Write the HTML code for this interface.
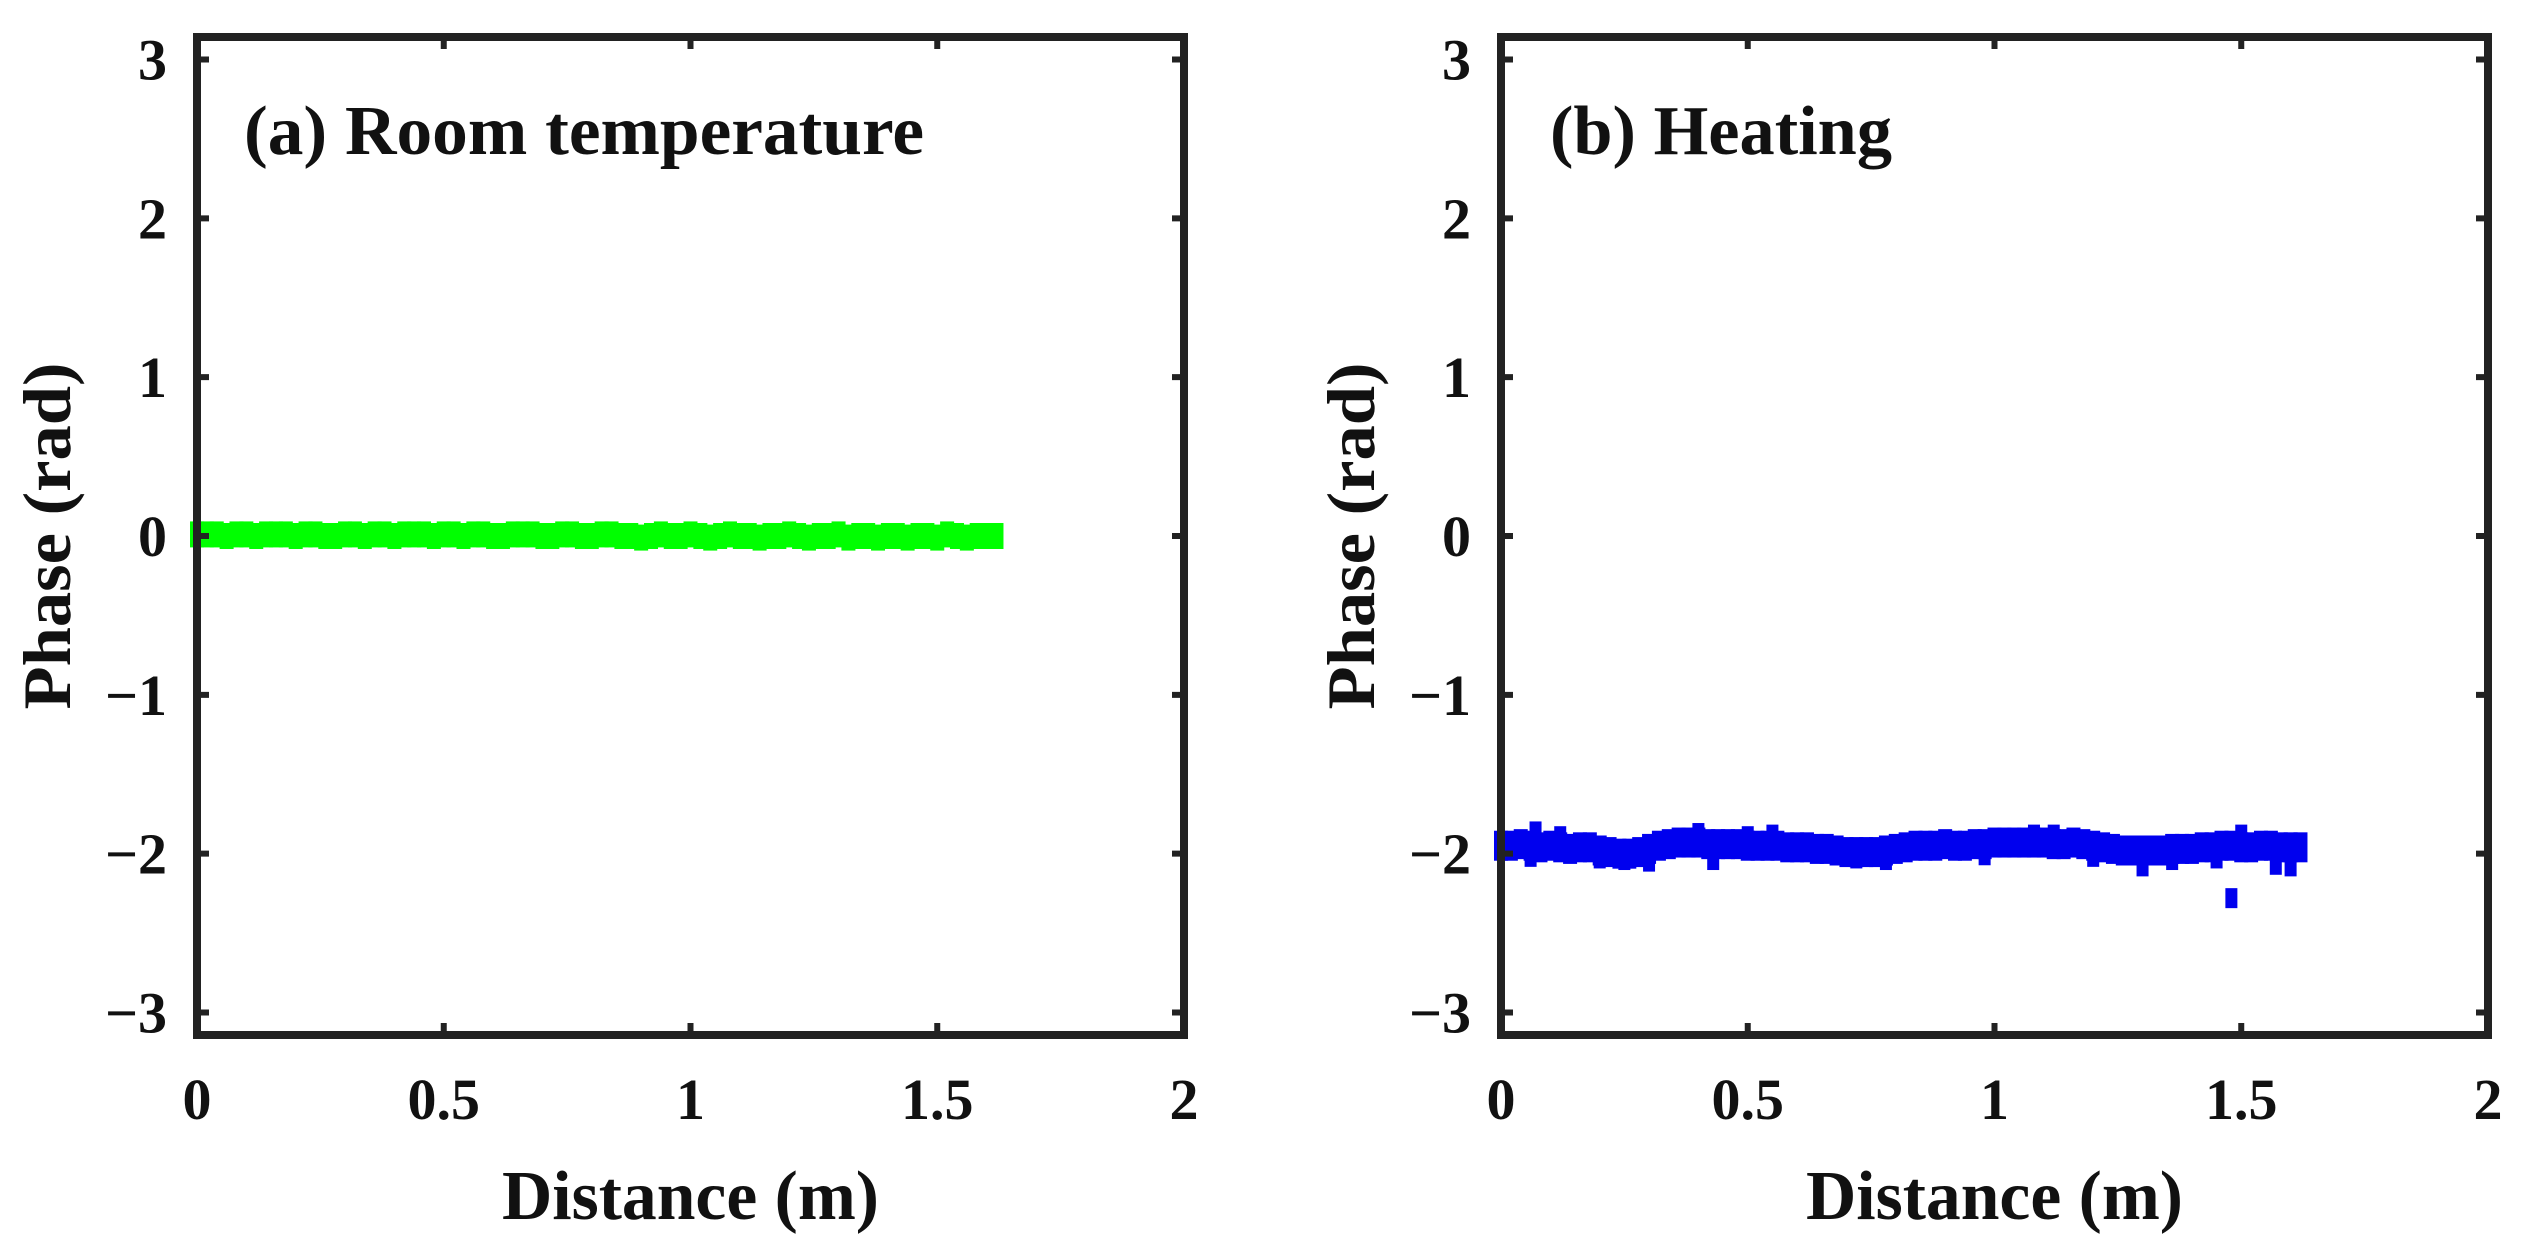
<!DOCTYPE html>
<html><head><meta charset="utf-8">
<style>
html,body{margin:0;padding:0;background:#fff;}
svg{display:block;}
text{font-family:"Liberation Serif",serif;font-weight:bold;fill:#111;}
</style></head>
<body>
<svg id="fig" width="2541" height="1241" viewBox="0 0 2541 1241" xmlns="http://www.w3.org/2000/svg"></svg>
<script>
const xTicks = [0, 0.5, 1, 1.5, 2];
const xTickLabels = ["0", "0.5", "1", "1.5", "2"];
const yTicks = [-3, -2, -1, 0, 1, 2, 3];
const yTickLabels = ["\u22123", "\u22122", "\u22121", "0", "1", "2", "3"];
const xStep = 0.02;
const greenPhase = [0.01,0.01,0.01,0.0,0.01,0.01,0.0,0.01,0.01,0.01,0.0,0.01,0.01,0.0,0.0,0.01,0.01,0.0,0.01,0.01,
 0.0,0.01,0.01,0.01,0.0,0.01,0.01,0.0,0.01,0.01,0.0,0.0,0.01,0.01,0.01,0.0,0.0,0.01,0.01,0.0,
 0.0,0.01,0.01,0.0,0.0,-0.01,0.0,0.01,0.0,0.0,0.01,0.0,-0.01,0.0,0.01,0.0,0.0,-0.01,0.0,0.0,
 0.01,0.0,-0.01,0.0,0.0,0.01,-0.01,0.0,0.0,-0.01,0.0,0.0,-0.01,0.0,0.0,-0.01,0.01,0.0,-0.01,0.0,0.0,0.0];
const bluePhase = [-1.95,-1.95,-1.94,-1.95,-1.96,-1.95,-1.96,-1.97,-1.96,-1.96,-1.98,-1.99,-2.0,-2.0,-1.99,-1.97,-1.95,-1.94,-1.93,-1.93,
 -1.93,-1.94,-1.94,-1.94,-1.94,-1.95,-1.95,-1.95,-1.95,-1.96,-1.96,-1.96,-1.97,-1.97,-1.98,-1.99,-1.99,-1.99,-1.99,-1.98,
 -1.97,-1.96,-1.95,-1.95,-1.95,-1.94,-1.95,-1.95,-1.94,-1.94,-1.93,-1.93,-1.93,-1.93,-1.93,-1.93,-1.94,-1.94,-1.93,-1.94,
 -1.95,-1.96,-1.97,-1.98,-1.98,-1.98,-1.98,-1.98,-1.97,-1.97,-1.97,-1.96,-1.96,-1.95,-1.95,-1.96,-1.96,-1.95,-1.95,-1.96,-1.96,-1.96];
const blueSpikeX = [0.06,0.07,0.12,0.2,0.25,0.3,0.4,0.43,0.5,0.55,0.72,0.78,0.98,1.08,1.12,1.2,1.3,1.36,1.45,1.48,1.5,1.57,1.6];
const blueSpikeY = [-2.02,-1.86,-1.89,-2.03,-2.04,-2.05,-1.87,-2.04,-1.89,-1.88,-2.03,-2.04,-2.01,-1.88,-1.88,-2.02,-2.08,-2.04,-2.03,-2.28,-1.88,-2.07,-2.08];

const NS = "http://www.w3.org/2000/svg";
const svg = document.getElementById("fig");
function mk(tag, attrs, parent) {
  const e = document.createElementNS(NS, tag);
  for (const k in attrs) e.setAttribute(k, attrs[k]);
  (parent || svg).appendChild(e);
  return e;
}
const YMIN = -Math.PI, YMAX = Math.PI, XMIN = 0, XMAX = 2;
const panels = [
  {L:197, R:1184, T:37, B:1035, title:"(a) Room temperature", titleX:244, titleLen:680, ytX:70, color:"#00ff00", key:"room", data:greenPhase, w:14, h:26},
  {L:1501, R:2488, T:37, B:1035, title:"(b) Heating", titleX:1550, titleLen:342, ytX:1374, color:"#0000ee", key:"heating", data:bluePhase, w:14, h:30}
];
panels.forEach((p, pi) => {
  const g = mk("g", {});
  
  
  const sx = v => p.L + (v - XMIN) / (XMAX - XMIN) * (p.R - p.L);
  const sy = v => p.B - (v - YMIN) / (YMAX - YMIN) * (p.B - p.T);
  const series = mk("g", {fill: p.color}, g);
  
  
  p.data.forEach((v, i) => {
    const x = sx(i * xStep), y = sy(v);
    const r = mk("rect", {x: x - p.w/2, y: y - p.h/2, width: p.w, height: p.h}, series);
    
    
  });
  if (pi === 1) {
    blueSpikeX.forEach((xv, i) => {
      const yv = blueSpikeY[i];
      const r = mk("rect", {x: sx(xv) - 6, y: sy(yv) - 10, width: 12, height: 20}, series);
      
      
    });
  }
  const box = mk("rect", {x:p.L, y:p.T, width:p.R-p.L, height:p.B-p.T, fill:"none", stroke:"#222", "stroke-width":8}, g);
  
  
  xTicks.forEach((t, i) => {
    const x = sx(t);
    const tk = mk("path", {d:`M${x} ${p.B} v-12 M${x} ${p.T} v12`, stroke:"#222", "stroke-width":6}, g);
    
    
    const lb = mk("text", {x:x, y:1119, "font-size":58, "text-anchor":"middle"}, g);
    lb.textContent = xTickLabels[i];
    
    
  });
  yTicks.forEach((t, i) => {
    const y = sy(t);
    const tk = mk("path", {d:`M${p.L} ${y} h12 M${p.R} ${y} h-12`, stroke:"#222", "stroke-width":6}, g);
    
    
    const lb = mk("text", {x:p.L - 30, y:y + 20, "font-size":58, "text-anchor":"end"}, g);
    lb.textContent = yTickLabels[i];
    
    
  });
  const xt = mk("text", {x:(p.L+p.R)/2, y:1219, "font-size":70, "text-anchor":"middle", textLength:377, lengthAdjust:"spacingAndGlyphs"}, g);
  xt.textContent = "Distance (m)";
  
  
  const cy = (p.T + p.B) / 2;
  const yt = mk("text", {x:0, y:0, "font-size":68, "text-anchor":"middle", textLength:347, lengthAdjust:"spacingAndGlyphs", transform:`translate(${p.ytX},${cy}) rotate(-90)`}, g);
  yt.textContent = "Phase (rad)";
  
  
  const tt = mk("text", {x:p.titleX, y:154, "font-size":70, textLength:p.titleLen, lengthAdjust:"spacingAndGlyphs"}, g);
  tt.textContent = p.title;
  
  
});
</script>
</body></html>
